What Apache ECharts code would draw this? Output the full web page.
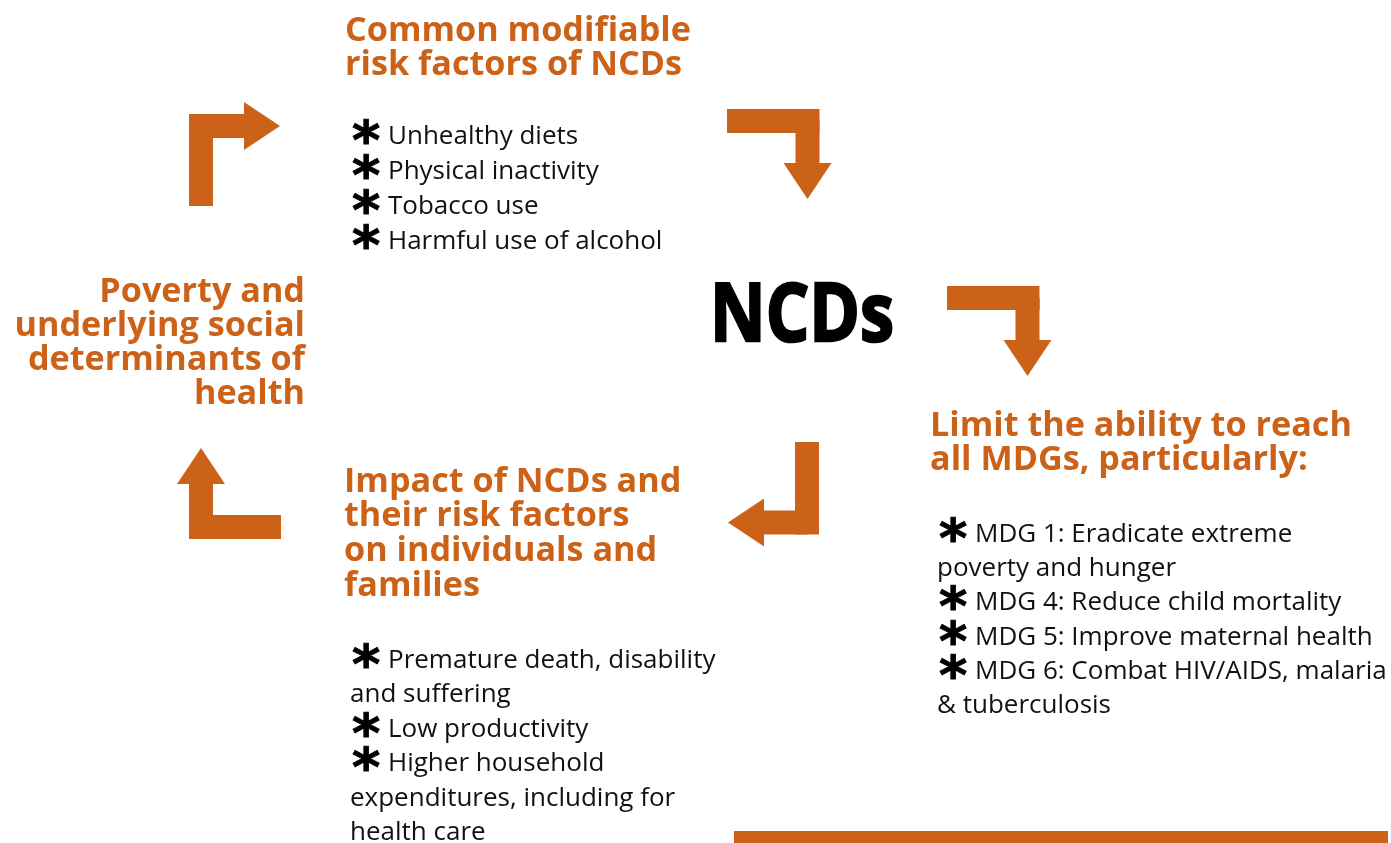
<!DOCTYPE html>
<html>
<head>
<meta charset="utf-8">
<script src="https://cdn.jsdelivr.net/npm/echarts@6/dist/echarts.min.js"></script>
<style>
html, body { margin: 0; padding: 0; background: #fff; }
#main { width: 1391px; height: 843px; }
</style>
</head>
<body>
<div id="main"></div>
<script>
// texts of the diagram
var centerTitle = 'NCDs';
var riskTitle = ['Common modifiable', 'risk factors of NCDs'];
var riskLines = ['Unhealthy diets', 'Physical inactivity', 'Tobacco use', 'Harmful use of alcohol'];
var riskBullets = [1, 1, 1, 1];
var povertyTitle = ['Poverty and', 'underlying social', 'determinants of', 'health'];
var mdgTitle = ['Limit the ability to reach', 'all MDGs, particularly:'];
var mdgLines = ['MDG 1: Eradicate extreme', 'poverty and hunger', 'MDG 4: Reduce child mortality',
                'MDG 5: Improve maternal health', 'MDG 6: Combat HIV/AIDS, malaria', '& tuberculosis'];
var mdgBullets = [1, 0, 1, 1, 1, 0];
var impactTitle = ['Impact of NCDs and', 'their risk factors', 'on individuals and', 'families'];
var impactLines = ['Premature death, disability', 'and suffering', 'Low productivity', 'Higher household',
                   'expenditures, including for', 'health care'];
var impactBullets = [1, 0, 1, 1, 0, 0];

var orange = '#cc6218';
var fontFamily = '"Open Sans", "Noto Sans", sans-serif';

var myChart = echarts.init(document.getElementById('main'));
var elements = [];

// one text line, base = baseline
function addText(str, x, base, size, weight, color, align) {
    elements.push({
        type: 'text',
        x: x,
        y: base - size * 0.32,
        style: {
            text: str,
            fill: color,
            font: weight + ' ' + size + 'px ' + fontFamily,
            textAlign: align || 'left',
            textVerticalAlign: 'middle'
        }
    });
}

function addTitle(lines, x, base0, step, align) {
    lines.forEach(function (s, i) {
        addText(s, x, base0 + i * step, 34.2, 'bold', orange, align);
    });
}

function addList(lines, bullets, x, base0, step) {
    lines.forEach(function (s, i) {
        var base = base0 + i * step;
        if (bullets[i]) {
            elements.push({
                type: 'text',
                x: x + 2,
                y: base,
                style: {
                    text: '*',
                    fill: '#000',
                    stroke: '#000',
                    lineWidth: 1,
                    font: 'bold 54px "DejaVu Sans", sans-serif',
                    textAlign: 'left',
                    textVerticalAlign: 'middle'
                }
            });
            addText(s, x + 38, base, 26, 'normal', '#111');
        } else {
            addText(s, x, base, 26, 'normal', '#111');
        }
    });
}

// L shaped arrow: start S, corner C, tip T
function addArrow(S, C, T) {
    var t = 24, h = 24, L = 36;
    var d1 = [Math.sign(C[0] - S[0]), Math.sign(C[1] - S[1])];
    var d2 = [Math.sign(T[0] - C[0]), Math.sign(T[1] - C[1])];
    var E1 = [C[0] + d1[0] * t / 2, C[1] + d1[1] * t / 2];
    var B = [T[0] - d2[0] * L, T[1] - d2[1] * L];
    function rect(P, Q) {
        var x0 = Math.min(P[0], Q[0]), x1 = Math.max(P[0], Q[0]);
        var y0 = Math.min(P[1], Q[1]), y1 = Math.max(P[1], Q[1]);
        if (x0 === x1) { x0 -= t / 2; x1 += t / 2; }
        if (y0 === y1) { y0 -= t / 2; y1 += t / 2; }
        elements.push({ type: 'rect', shape: { x: x0, y: y0, width: x1 - x0, height: y1 - y0 }, style: { fill: orange } });
    }
    rect(S, E1);
    rect(C, B);
    var n = [d2[1], -d2[0]];
    elements.push({
        type: 'polygon',
        shape: { points: [[B[0] + n[0] * h, B[1] + n[1] * h], T, [B[0] - n[0] * h, B[1] - n[1] * h]] },
        style: { fill: orange }
    });
}

addTitle(riskTitle, 345, 42, 34, 'left');
addList(riskLines, riskBullets, 350, 145, 35);
addTitle(povertyTitle, 305, 303, 34, 'right');
addTitle(mdgTitle, 930, 437, 34, 'left');
addList(mdgLines, mdgBullets, 937, 543, 34.2);
addTitle(impactTitle, 344, 493, 34.7, 'left');
addList(impactLines, impactBullets, 350, 669, 34.4);

elements.push({
    type: 'text',
    x: 710, y: 318,
    scaleX: 0.845,
    style: {
        text: centerTitle,
        fill: '#000',
        stroke: '#000',
        lineWidth: 2.5,
        font: 'bold 81px ' + fontFamily,
        textAlign: 'left',
        textVerticalAlign: 'middle'
    }
});

addArrow([201, 206], [201, 126], [280, 126]);
addArrow([727, 121], [807.5, 121], [807.5, 199]);
addArrow([947, 298], [1027.5, 298], [1027.5, 376]);
addArrow([807, 442], [807, 522.5], [728, 522.5]);
addArrow([281, 527], [201, 527], [201, 448]);

elements.push({ type: 'rect', shape: { x: 734, y: 831, width: 654, height: 12 }, style: { fill: orange } });

option = {
    backgroundColor: '#fff',
    graphic: { elements: elements }
};
myChart.setOption(option);
</script>
</body>
</html>
